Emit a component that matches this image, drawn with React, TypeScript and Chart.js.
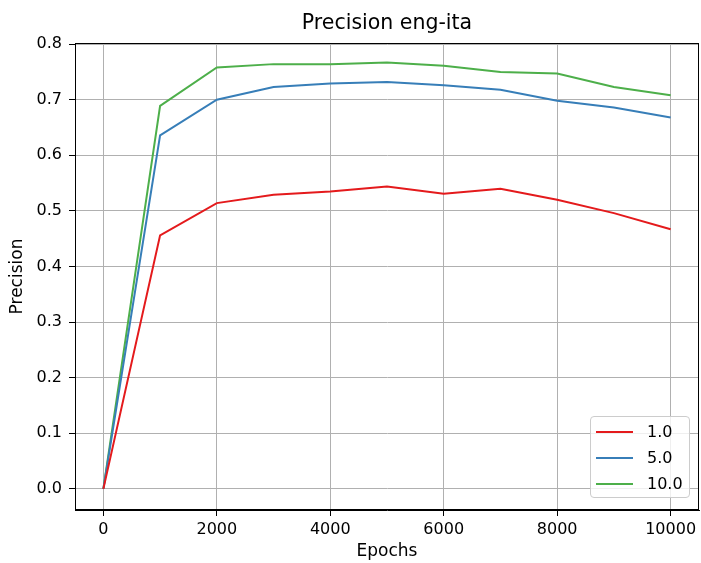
import React, { useEffect, useRef } from "react";
import { Chart, registerables } from "chart.js";

Chart.register(...registerables);

const epochs = [0, 1000, 2000, 3000, 4000, 5000, 6000, 7000, 8000, 9000, 10000];
const series1 = [0.0, 0.456, 0.514, 0.529, 0.535, 0.544, 0.531, 0.540, 0.520, 0.496, 0.467];
const series5 = [0.0, 0.636, 0.700, 0.723, 0.729, 0.732, 0.726, 0.718, 0.698, 0.686, 0.668];
const series10 = [0.0, 0.689, 0.758, 0.764, 0.764, 0.767, 0.761, 0.750, 0.747, 0.723, 0.708];
const seriesNames = ["1.0", "5.0", "10.0"];
const seriesColors = ["#e41a1c", "#377eb8", "#4daf4a"];
const xTicks = [0, 2000, 4000, 6000, 8000, 10000];
const yTicks = [0.0, 0.1, 0.2, 0.3, 0.4, 0.5, 0.6, 0.7, 0.8];
const chartTitle = "Precision eng-ita";

const FONT = "'DejaVu Sans', sans-serif";

const framePlugin = {
  id: "frame",
  afterDraw(chart: any) {
    const { ctx, chartArea } = chart;
    ctx.save();
    ctx.strokeStyle = "#000";
    ctx.lineWidth = 1;
    ctx.strokeRect(
      Math.round(chartArea.left) + 0.5,
      Math.round(chartArea.top) + 0.5,
      Math.round(chartArea.right - chartArea.left) - 1,
      Math.round(chartArea.bottom - chartArea.top) - 1
    );
    ctx.restore();
  },
};

export default function App() {
  const ref = useRef<HTMLCanvasElement | null>(null);

  useEffect(() => {
    if (!ref.current) return;
    const allSeries = [series1, series5, series10];
    const chart = new Chart(ref.current, {
      type: "line",
      data: {
        datasets: allSeries.map((vals, si) => ({
          label: seriesNames[si],
          data: epochs.map((e, i) => ({ x: e, y: vals[i] })),
          borderColor: seriesColors[si],
          backgroundColor: seriesColors[si],
          borderWidth: 2,
          pointRadius: 0,
          tension: 0,
          fill: false,
        })),
      },
      options: {
        responsive: false,
        animation: false,
        layout: { padding: { left: 0, right: 2, top: 43, bottom: 0 } },
        plugins: {
          legend: { display: false },
          tooltip: { enabled: false },
          title: { display: false },
        },
        scales: {
          x: {
            type: "linear",
            min: -500,
            max: 10500,
            afterBuildTicks: (scale: any) => {
              scale.ticks = xTicks.map((v) => ({ value: v }));
            },
            afterFit: (scale: any) => {
              scale.height = 53;
            },
            ticks: {
              color: "#000",
              font: { family: FONT, size: 16 },
              padding: 4,
              maxRotation: 0,
              autoSkip: false,
              callback: (v: any) => String(v),
            },
            grid: {
              color: "#b0b0b0",
              lineWidth: 1,
              drawTicks: true,
              tickLength: 6,
              tickColor: "#000",
            },
            border: { display: true, color: "#000", width: 1 },
            title: {
              display: true,
              text: "Epochs",
              color: "#000",
              font: { family: FONT, size: 17 },
              padding: { top: 0, bottom: 1 },
            },
          },
          y: {
            type: "linear",
            min: -0.038,
            max: 0.802,
            afterBuildTicks: (scale: any) => {
              scale.ticks = yTicks.map((v) => ({ value: v }));
            },
            afterFit: (scale: any) => {
              scale.width = 75;
            },
            ticks: {
              color: "#000",
              font: { family: FONT, size: 16 },
              padding: 7,
              autoSkip: false,
              callback: (v: any) => Number(v).toFixed(1),
            },
            grid: {
              color: "#b0b0b0",
              lineWidth: 1,
              drawTicks: true,
              tickLength: 6,
              tickColor: "#000",
            },
            border: { display: true, color: "#000", width: 1 },
            title: {
              display: true,
              text: "Precision",
              color: "#000",
              font: { family: FONT, size: 17 },
              padding: { top: 7, bottom: 0 },
            },
          },
        },
      },
      plugins: [framePlugin],
    });
    return () => chart.destroy();
  }, []);

  return (
    <div style={{ position: "absolute", left: 0, top: 0, width: 701, height: 563, background: "#fff" }}>
      <canvas ref={ref} width={701} height={563} style={{ display: "block" }} />
      <div
        style={{
          position: "absolute",
          left: 75,
          top: 8,
          width: 624,
          textAlign: "center",
          fontFamily: FONT,
          fontSize: 20.5,
          lineHeight: "28px",
          color: "#000",
        }}
      >
        {chartTitle}
      </div>
      <div
        style={{
          position: "absolute",
          left: 590,
          top: 416,
          width: 100,
          height: 82,
          border: "1px solid #cccccc",
          borderRadius: 4,
          background: "rgba(255,255,255,0.8)",
          boxSizing: "border-box",
          fontFamily: FONT,
          fontSize: 16,
          color: "#000",
        }}
      >
        {seriesNames.map((name, i) => (
          <div
            key={name}
            style={{ position: "absolute", left: 5, top: 4 + i * 26, height: 22, display: "flex", alignItems: "center" }}
          >
            <div style={{ width: 37, height: 2, background: seriesColors[i] }} />
            <span style={{ marginLeft: 14, lineHeight: "22px" }}>{name}</span>
          </div>
        ))}
      </div>
    </div>
  );
}
